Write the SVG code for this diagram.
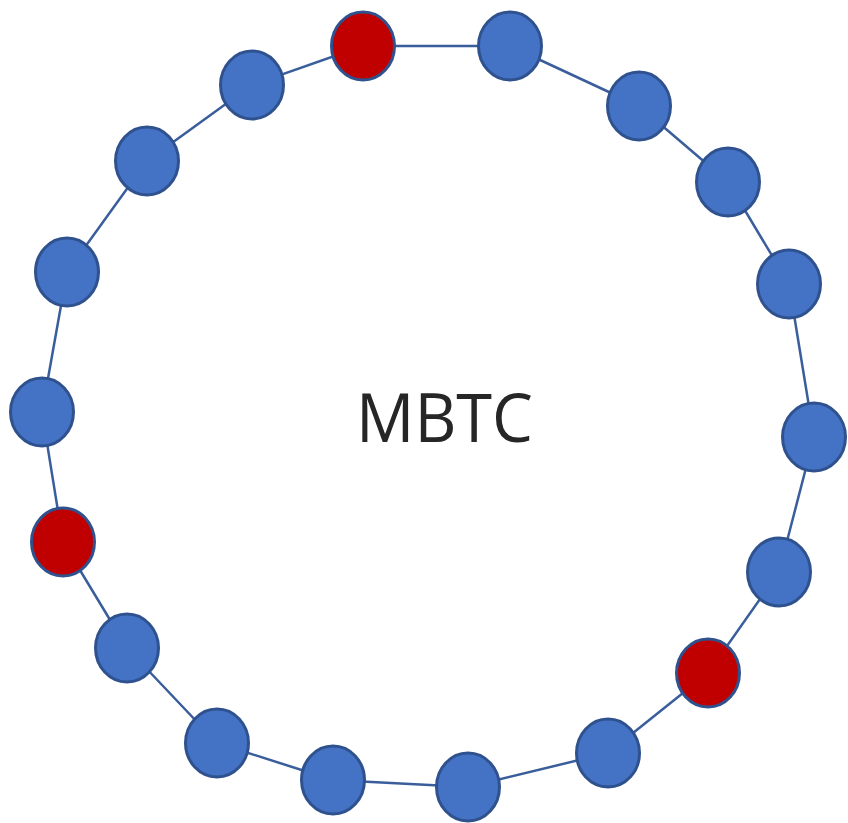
<svg xmlns="http://www.w3.org/2000/svg" width="848" height="823" viewBox="0 0 848 823">
  <style>
    .link { fill: none; stroke: #3A5E9C; stroke-width: 2.5; stroke-linejoin: round; }
    .node { fill: #4472C4; stroke: #2F528F; stroke-width: 3; }
    .node.alt { fill: #C00000; }
    .label { font-family: "Open Sans", "Noto Sans", sans-serif; font-size: 68px; fill: #262626; }
  </style>
  <rect width="848" height="823" fill="#FFFFFF"/>
  <g id="connectors">
    <polygon class="link" points="363,46 510,46 639,106 728,182 789,284 814,437 779,572 708,673 608,753 468,787 333,780 217,743 127,648 63,542 42,412 67,272 147,161 252,85"/>
  </g>
  <g id="n1"><ellipse class="node alt" cx="363" cy="46" rx="31.5" ry="34"/></g>
  <g id="n2"><ellipse class="node" cx="510" cy="46" rx="31.5" ry="34"/></g>
  <g id="n3"><ellipse class="node" cx="639" cy="106" rx="31.5" ry="34"/></g>
  <g id="n4"><ellipse class="node" cx="728" cy="182" rx="31.5" ry="34"/></g>
  <g id="n5"><ellipse class="node" cx="789" cy="284" rx="31.5" ry="34"/></g>
  <g id="n6"><ellipse class="node" cx="814" cy="437" rx="31.5" ry="34"/></g>
  <g id="n7"><ellipse class="node" cx="779" cy="572" rx="31.5" ry="34"/></g>
  <g id="n8"><ellipse class="node alt" cx="708" cy="673" rx="31.5" ry="34"/></g>
  <g id="n9"><ellipse class="node" cx="608" cy="753" rx="31.5" ry="34"/></g>
  <g id="n10"><ellipse class="node" cx="468" cy="787" rx="31.5" ry="34"/></g>
  <g id="n11"><ellipse class="node" cx="333" cy="780" rx="31.5" ry="34"/></g>
  <g id="n12"><ellipse class="node" cx="217" cy="743" rx="31.5" ry="34"/></g>
  <g id="n13"><ellipse class="node" cx="127" cy="648" rx="31.5" ry="34"/></g>
  <g id="n14"><ellipse class="node alt" cx="63" cy="542" rx="31.5" ry="34"/></g>
  <g id="n15"><ellipse class="node" cx="42" cy="412" rx="31.5" ry="34"/></g>
  <g id="n16"><ellipse class="node" cx="67" cy="272" rx="31.5" ry="34"/></g>
  <g id="n17"><ellipse class="node" cx="147" cy="161" rx="31.5" ry="34"/></g>
  <g id="n18"><ellipse class="node" cx="252" cy="85" rx="31.5" ry="34"/></g>
  <text class="label" x="356" y="442" textLength="177" lengthAdjust="spacingAndGlyphs">MBTC</text>
</svg>
